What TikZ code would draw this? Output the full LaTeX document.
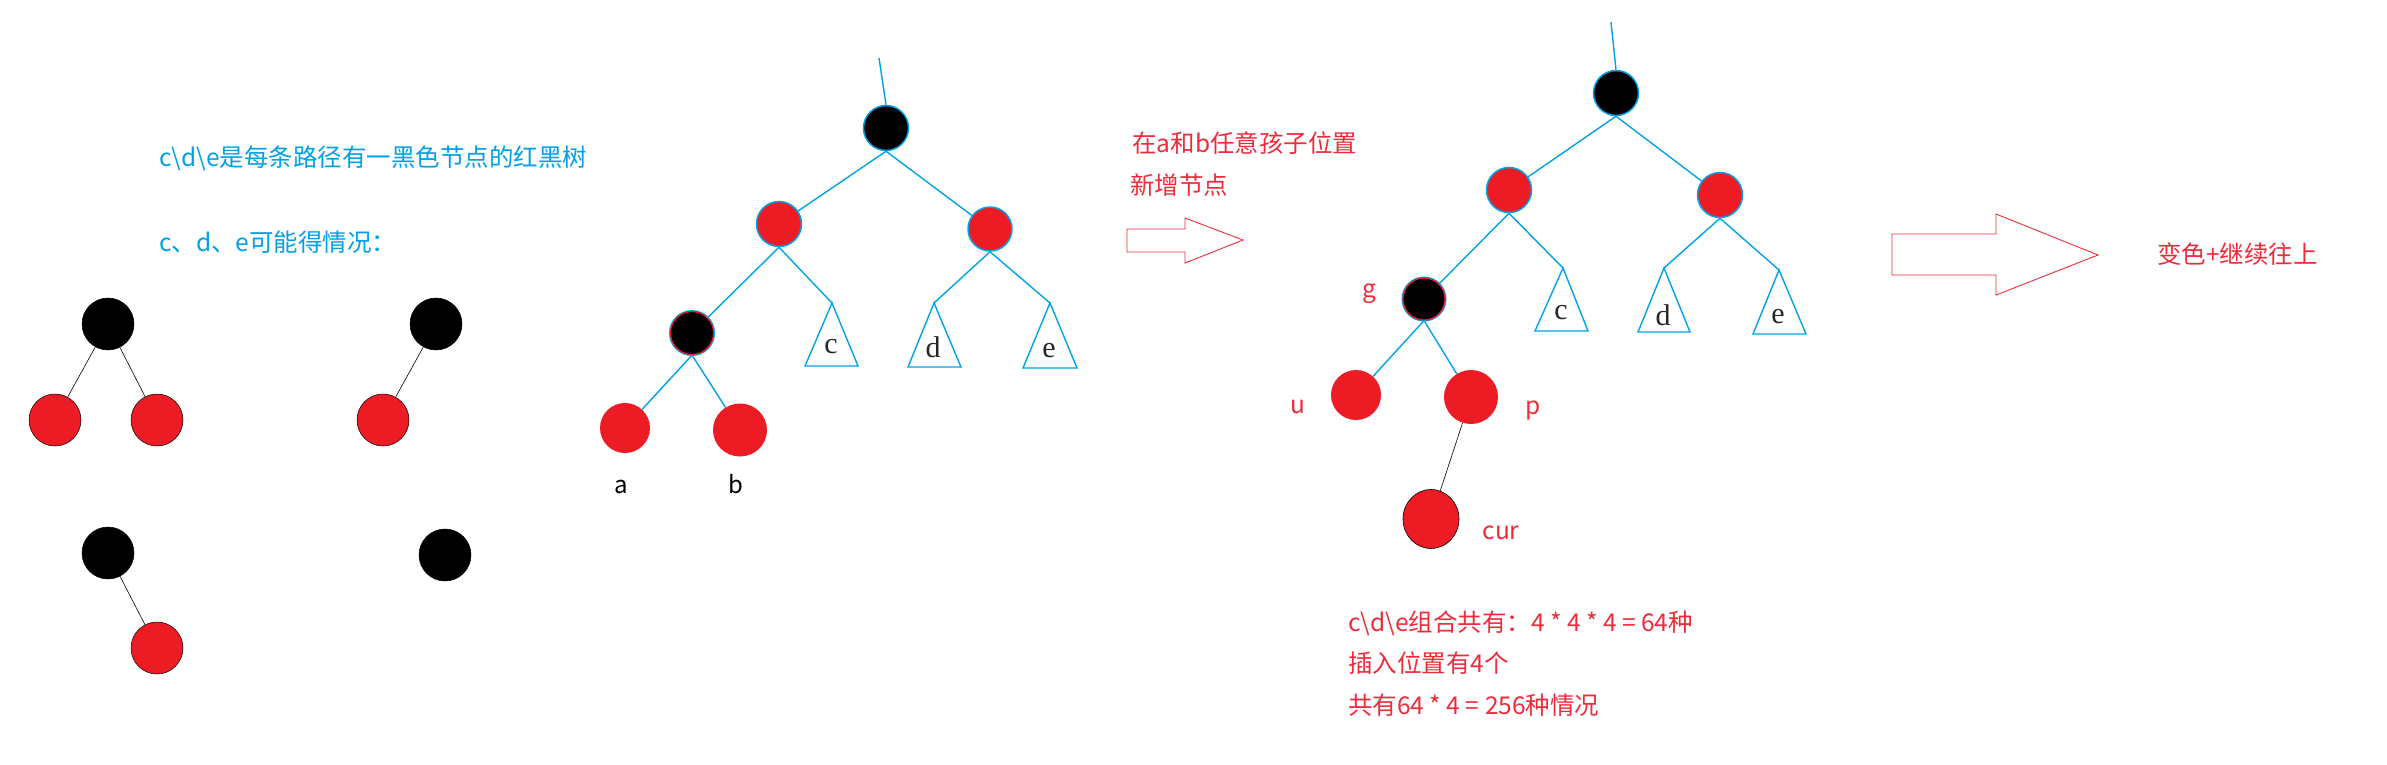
\documentclass[tikz,border=0pt]{standalone}
\usepackage{fontspec}
\usetikzlibrary{shapes.geometric}
\newfontfamily\cjk{Noto Sans CJK SC}
\newfontfamily\serifl{Liberation Serif}
\definecolor{lblue}{HTML}{00A2E8}
\definecolor{tblue}{HTML}{00A0E9}
\definecolor{nred}{HTML}{ED1C24}
\definecolor{tred}{HTML}{EF2B3A}
\begin{document}
\begin{tikzpicture}[x=1pt,y=-1pt,
  blk/.style={circle, fill=black, draw=black, line width=0.5pt, minimum size=52pt, inner sep=0pt},
  rdc/.style={circle, fill=nred, draw=black, line width=0.5pt, minimum size=52pt, inner sep=0pt},
  tblk/.style={circle, fill=black, draw=lblue, line width=1.5pt, inner sep=0pt},
  tred/.style={circle, fill=nred, draw=lblue, line width=1.5pt, inner sep=0pt},
  gnode/.style={circle, fill=black, preaction={draw=lblue, line width=3pt}, draw=nred, line width=1.2pt, inner sep=0pt},
  pred/.style={ellipse, fill=nred, inner sep=0pt},
  sedge/.style={draw=black, line width=0.6pt},
  bedge/.style={draw=lblue, line width=1.4pt},
  tri/.style={draw=lblue, line width=1.4pt, line join=miter},
  btxt/.style={anchor=base west, inner sep=0pt, text=tblue, font=\cjk\fontsize{24.5}{29}\selectfont},
  rtxt/.style={anchor=base west, inner sep=0pt, text=tred, font=\cjk\fontsize{24.5}{29}\selectfont},
  rlab/.style={anchor=base, inner sep=0pt, text=tred, font=\cjk\fontsize{24.5}{29}\selectfont},
  klab/.style={anchor=base, inner sep=0pt, text=black, font=\cjk\fontsize{24}{28}\selectfont},
  slab/.style={anchor=base, inner sep=0pt, text=black!85, font=\serifl\fontsize{30}{34}\selectfont},
  bigarrow/.style={draw=tred, line width=0.9pt, line join=miter}
]
\useasboundingbox (0,0) rectangle (2387,764);

% ---- texts on the left
\node[btxt] (t1) at (159,166) {c\textbackslash d\textbackslash e是每条路径有一黑色节点的红黑树};
\node[btxt] (t2) at (159,251) {c、d、e可能得情况：};

% ---- small trees
\node[blk] (s1r) at (108,324) {};
\node[rdc] (s1a) at (55,420) {};
\node[rdc] (s1b) at (157,420) {};
\draw[sedge] (s1r) -- (s1a);
\draw[sedge] (s1r) -- (s1b);

\node[blk] (s2r) at (436,324) {};
\node[rdc] (s2a) at (383,420) {};
\draw[sedge] (s2r) -- (s2a);

\node[blk] (s3r) at (108,553) {};
\node[rdc] (s3b) at (157,648) {};
\draw[sedge] (s3r) -- (s3b);

\node[blk] (s4r) at (445,555) {};

% ---- main tree 1
\coordinate (top1) at (879,58);
\node[tblk, minimum size=45pt] (r1) at (886,128) {};
\node[tred, minimum size=45pt] (l1) at (779,224) {};
\node[tred, minimum size=44pt] (q1) at (990,229) {};
\node[gnode, minimum size=43pt] (g1) at (692,333) {};
\node[pred, minimum width=50pt, minimum height=50pt] (a1) at (625,428) {};
\node[pred, minimum width=54pt, minimum height=53pt] (b1) at (740,430) {};
\coordinate (c1) at (832,303);
\coordinate (d1) at (934,303);
\coordinate (e1) at (1050,303);
\draw[tri] (c1) -- (858,366) -- (805,366) -- cycle;
\draw[tri] (d1) -- (961,367) -- (908,367) -- cycle;
\draw[tri] (e1) -- (1077,368) -- (1023,368) -- cycle;
\node[slab] (c1l) at (831,353) {c};
\node[slab] (d1l) at (933,357) {d};
\node[slab] (e1l) at (1049,357) {e};
\draw[bedge] (top1) -- (r1.north);
\draw[bedge] (r1.south) -- (l1);
\draw[bedge] (r1.south) -- (q1);
\draw[bedge] (l1.south) -- (g1);
\draw[bedge] (l1.south) -- (c1);
\draw[bedge] (q1.south) -- (d1);
\draw[bedge] (q1.south) -- (e1);
\draw[bedge] (g1.south) -- (a1);
\draw[bedge] (g1.south) -- (b1);
\node[klab] (la) at (621,493) {a};
\node[klab] (lb) at (736,493) {b};

% ---- middle text and arrow
\node[rtxt] (m1) at (1132,152) {在a和b任意孩子位置};
\node[rtxt] (m2) at (1130,194) {新增节点};
\draw[bigarrow] (1127,229) -- (1185,229) -- (1185,218) -- (1243,240) -- (1185,263) -- (1185,252) -- (1127,252) -- cycle;

% ---- main tree 2
\coordinate (top2) at (1611,22);
\node[tblk, minimum size=45pt] (r2) at (1616,93) {};
\node[tred, minimum size=45pt] (l2) at (1509,190) {};
\node[tred, minimum size=45pt] (q2) at (1720,195) {};
\node[gnode, minimum size=42pt] (g2) at (1424,299) {};
\node[pred, minimum width=50pt, minimum height=50pt] (u2) at (1356,395) {};
\node[pred, minimum width=54pt, minimum height=54pt] (p2) at (1471,397) {};
\node[ellipse, fill=nred, draw=black, line width=0.6pt, inner sep=0pt, minimum width=56pt, minimum height=59pt] (cur) at (1431,519) {};
\coordinate (c2) at (1563,268);
\coordinate (d2) at (1664,268);
\coordinate (e2) at (1779,270);
\draw[tri] (c2) -- (1588,331) -- (1535,331) -- cycle;
\draw[tri] (d2) -- (1690,332) -- (1638,332) -- cycle;
\draw[tri] (e2) -- (1806,334) -- (1753,334) -- cycle;
\node[slab] (c2l) at (1561,319) {c};
\node[slab] (d2l) at (1663,325) {d};
\node[slab] (e2l) at (1778,323) {e};
\draw[bedge] (top2) -- (r2.north);
\draw[bedge] (r2.south) -- (l2);
\draw[bedge] (r2.south) -- (q2);
\draw[bedge] (l2.south) -- (g2);
\draw[bedge] (l2.south) -- (c2);
\draw[bedge] (q2.south) -- (d2);
\draw[bedge] (q2.south) -- (e2);
\draw[bedge] (g2.south) -- (u2);
\draw[bedge] (g2.south) -- (p2);
\draw[sedge] (p2) -- (cur);
\node[rlab] (lg) at (1369,297) {g};
\node[rlab] (lu) at (1298,413) {u};
\node[rlab] (lp) at (1533,414) {p};
\node[rlab] (lcur) at (1501,539) {cur};

% ---- bottom texts
\node[rtxt] (b1t) at (1348,631) {c\textbackslash d\textbackslash e组合共有：4 * 4 * 4 = 64种};
\node[rtxt] (b2t) at (1348,672) {插入位置有4个};
\node[rtxt] (b3t) at (1348,714) {共有64 * 4 = 256种情况};

% ---- right arrow and text
\draw[bigarrow] (1892,234) -- (1996,234) -- (1996,214) -- (2098,255) -- (1996,295) -- (1996,275) -- (1892,275) -- cycle;
\node[rtxt] (fin) at (2157,263) {变色+继续往上};
\end{tikzpicture}
\end{document}
